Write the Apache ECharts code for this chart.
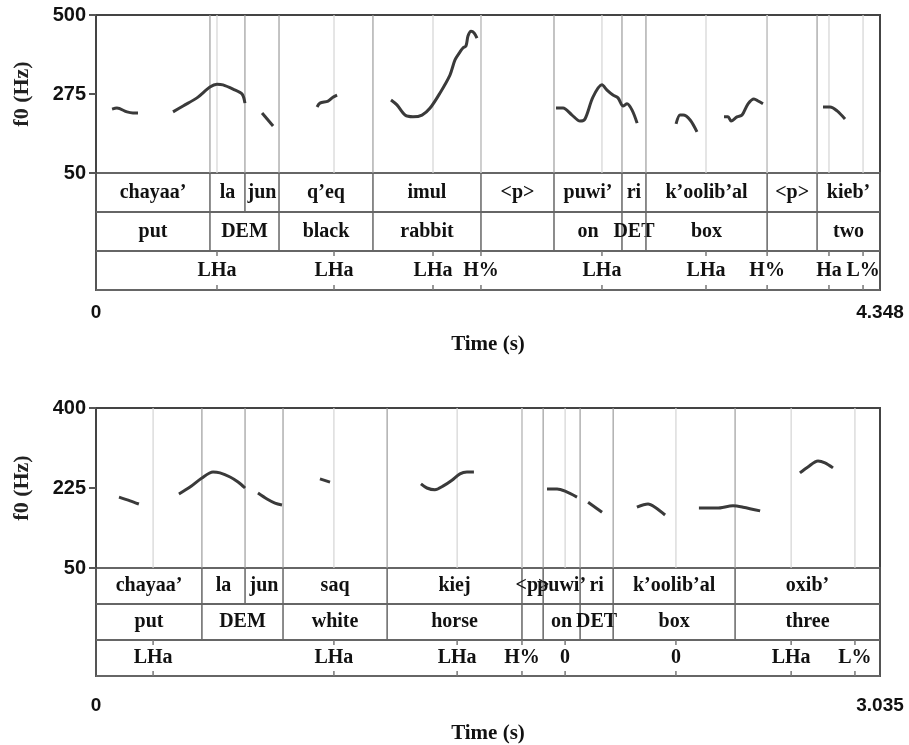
<!DOCTYPE html>
<html>
<head>
<meta charset="utf-8">
<script src="https://cdn.jsdelivr.net/npm/echarts@6/dist/echarts.min.js"></script>
<style>
  html, body { margin: 0; padding: 0; background: #fff; }
  #chart { width: 909px; height: 745px; }
</style>
</head>
<body>
<div id="chart"></div>
<script>
  // ---- panel 1 (two) ----
  const topDuration = 4.348;
  const topHzTicks = [50, 275, 500];
  const topContours = [
    [[0.089, 232], [0.116, 235], [0.172, 224], [0.205, 221], [0.233, 221]],
    [[0.427, 224], [0.483, 241], [0.560, 264], [0.632, 295], [0.671, 303], [0.704, 301], [0.760, 289], [0.810, 275], [0.826, 249]],
    [[0.921, 221], [0.982, 184]],
    [[1.226, 238], [1.242, 249], [1.287, 255], [1.314, 266], [1.337, 272]],
    [[1.636, 258], [1.669, 244], [1.714, 215], [1.758, 210], [1.808, 215], [1.853, 235], [1.908, 278], [1.963, 329], [1.991, 372],
     [2.019, 395], [2.035, 406], [2.052, 412], [2.063, 440], [2.080, 454], [2.097, 449], [2.113, 434]],
    [[2.551, 235], [2.590, 235], [2.640, 215], [2.684, 198], [2.712, 204], [2.756, 266], [2.806, 301], [2.834, 286],
     [2.867, 272], [2.895, 264], [2.923, 241], [2.945, 247], [2.973, 229], [3.001, 192]],
    [[3.217, 190], [3.239, 215], [3.256, 215], [3.295, 201], [3.333, 167]],
    [[3.483, 210], [3.505, 210], [3.522, 198], [3.555, 210], [3.583, 215], [3.616, 247], [3.649, 261], [3.672, 255], [3.699, 247]],
    [[4.032, 238], [4.071, 238], [4.110, 227], [4.154, 204]]
  ];
  // [start, end, label]
  const topWords = [
    [0, 0.632, 'chayaa’'], [0.632, 0.826, 'la'], [0.826, 1.015, 'jun'], [1.015, 1.536, 'q’eq'],
    [1.536, 2.135, 'imul'], [2.135, 2.540, '<p>'], [2.540, 2.917, 'puwi’'], [2.917, 3.050, 'ri'],
    [3.050, 3.722, 'k’oolib’al'], [3.722, 3.999, '<p>'], [3.999, 4.348, 'kieb’']
  ];
  const topGloss = [
    [0, 0.632, 'put'], [0.632, 1.015, 'DEM'], [1.015, 1.536, 'black'], [1.536, 2.135, 'rabbit'],
    [2.135, 2.540, ''], [2.540, 2.917, 'on'], [2.917, 3.050, 'DET'], [3.050, 3.722, 'box'],
    [3.722, 3.999, ''], [3.999, 4.348, 'two']
  ];
  // [time, label]
  const topTones = [
    [0.671, 'LHa'], [1.320, 'LHa'], [1.869, 'LHa'], [2.135, 'H%'], [2.806, 'LHa'],
    [3.383, 'LHa'], [3.722, 'H%'], [4.065, 'Ha'], [4.254, 'L%']
  ];

  // ---- panel 2 (three) ----
  const botDuration = 3.035;
  const botHzTicks = [50, 225, 400];
  const botContours = [
    [[0.089, 205], [0.132, 197], [0.166, 190]],
    [[0.321, 212], [0.364, 227], [0.410, 247], [0.453, 260], [0.480, 258], [0.519, 249], [0.550, 238], [0.577, 225]],
    [[0.627, 214], [0.662, 201], [0.693, 192], [0.720, 188]],
    [[0.867, 245], [0.906, 238]],
    [[1.258, 234], [1.281, 225], [1.312, 221], [1.343, 229], [1.378, 242], [1.409, 256], [1.436, 260], [1.463, 260]],
    [[1.746, 223], [1.785, 223], [1.816, 218], [1.862, 205]],
    [[1.905, 194], [1.959, 172]],
    [[2.094, 183], [2.137, 190], [2.164, 183], [2.203, 166]],
    [[2.334, 181], [2.404, 181], [2.466, 186], [2.505, 183], [2.571, 175]],
    [[2.725, 258], [2.756, 271], [2.795, 284], [2.822, 280], [2.853, 269]]
  ];
  const botWords = [
    [0, 0.410, 'chayaa’'], [0.410, 0.577, 'la'], [0.577, 0.724, 'jun'], [0.724, 1.127, 'saq'],
    [1.127, 1.649, 'kiej'], [1.649, 1.731, '<p>'], [1.731, 1.874, 'puwi’'], [1.874, 2.002, 'ri'],
    [2.002, 2.474, 'k’oolib’al'], [2.474, 3.035, 'oxib’']
  ];
  const botGloss = [
    [0, 0.410, 'put'], [0.410, 0.724, 'DEM'], [0.724, 1.127, 'white'], [1.127, 1.649, 'horse'],
    [1.649, 1.731, ''], [1.731, 1.874, 'on'], [1.874, 2.002, 'DET'], [2.002, 2.474, 'box'],
    [2.474, 3.035, 'three']
  ];
  const botTones = [
    [0.221, 'LHa'], [0.921, 'LHa'], [1.398, 'LHa'], [1.649, 'H%'], [1.816, '0'],
    [2.245, '0'], [2.691, 'LHa'], [2.938, 'L%']
  ];

  const SERIF = '"Liberation Serif", "DejaVu Serif", serif';
  const SANS = '"Liberation Sans", "DejaVu Sans", sans-serif';
  const TIER_FONT = 'bold 20px ' + SERIF;

  const chart = echarts.init(document.getElementById('chart'));

  let grids = [], xAxes = [], yAxes = [], series = [];

  function addPanel(top, pitchH, tierH, dur, hzTicks, contours, words, gloss, tones, labelMargin, nameGap) {
    const gp = grids.length;      // pitch grid
    const gt = gp + 1;            // tier grid
    const hzMin = hzTicks[0], hzMax = hzTicks[hzTicks.length - 1];

    grids.push({ left: 96, width: 784, top: top, height: pitchH, show: true, borderColor: '#444', borderWidth: 2 });
    grids.push({ left: 96, width: 784, top: top + pitchH, height: tierH, show: true, borderColor: '#555', borderWidth: 2 });

    xAxes.push({ gridIndex: gp, type: 'value', min: 0, max: dur, show: false });
    xAxes.push({
      gridIndex: gt, type: 'value', min: 0, max: dur,
      axisLine: { show: false },
      splitLine: { show: false },
      axisTick: { show: true, customValues: [0, dur], length: 4, lineStyle: { color: '#555', width: 2 } },
      axisLabel: { customValues: [0, dur], margin: labelMargin, color: '#111', fontFamily: SANS, fontWeight: 'bold', fontSize: 19 },
      name: 'Time (s)', nameLocation: 'middle', nameGap: nameGap,
      nameTextStyle: { color: '#111', fontFamily: SERIF, fontWeight: 'bold', fontSize: 21 }
    });

    yAxes.push({
      gridIndex: gp, type: 'value', min: hzMin, max: hzMax,
      axisLine: { show: true, lineStyle: { color: '#444', width: 2 } },
      axisTick: { show: true, customValues: hzTicks, length: 7, lineStyle: { color: '#555', width: 2 } },
      axisLabel: { customValues: hzTicks, margin: 10, color: '#111', fontFamily: SANS, fontWeight: 'bold', fontSize: 20 },
      splitLine: { show: false },
      name: 'f0 (Hz)', nameLocation: 'middle', nameGap: 63, nameRotate: 90,
      nameTextStyle: { color: '#222', fontFamily: SERIF, fontWeight: 'bold', fontSize: 22 }
    });
    yAxes.push({
      gridIndex: gt, type: 'value', min: 0, max: 3, interval: 1, inverse: true,
      axisLine: { show: false }, axisTick: { show: false }, axisLabel: { show: false },
      splitLine: { show: true, lineStyle: { color: '#666', width: 2 } }
    });

    // vertical lines through the pitch area: boundaries (dark) and tone points (light)
    const vlines = [];
    words.forEach(w => { if (w[0] > 0) vlines.push({ t: w[0], kind: 'b' }); });
    tones.forEach(p => vlines.push({ t: p[0], kind: 'p' }));
    series.push({
      type: 'custom', xAxisIndex: gp, yAxisIndex: gp, z: 1, silent: true,
      data: vlines.map(v => [v.t, hzMin]),
      renderItem: function (params, api) {
        const v = vlines[params.dataIndex];
        const a = api.coord([v.t, hzMin]), b = api.coord([v.t, hzMax]);
        return {
          type: 'line', shape: { x1: a[0], y1: a[1], x2: b[0], y2: b[1] },
          style: { stroke: v.kind === 'b' ? '#9c9c9c' : '#d4d4d4', lineWidth: 1.2 }
        };
      }
    });

    // pitch contours
    contours.forEach(c => {
      series.push({
        type: 'line', xAxisIndex: gp, yAxisIndex: gp, z: 3, data: c,
        showSymbol: false, smooth: 0.3, silent: true,
        lineStyle: { color: '#3a3a3a', width: 3 }
      });
    });

    // tiers
    const items = [];
    [words, gloss].forEach((tier, row) => {
      tier.forEach(iv => {
        if (iv[0] > 0) items.push({ kind: 'bound', t: iv[0], row: row });
        if (iv[2]) items.push({ kind: 'label', t: (iv[0] + iv[1]) / 2, row: row, text: iv[2] });
      });
    });
    tones.forEach(p => {
      items.push({ kind: 'point', t: p[0], row: 2 });
      items.push({ kind: 'label', t: p[0], row: 2, text: p[1] });
    });
    series.push({
      type: 'custom', xAxisIndex: gt, yAxisIndex: gt, z: 2, silent: true,
      data: items.map(it => [it.t, it.row]),
      renderItem: function (params, api) {
        const it = items[params.dataIndex];
        const a = api.coord([it.t, it.row]), b = api.coord([it.t, it.row + 1]);
        if (it.kind === 'bound') {
          return { type: 'line', shape: { x1: a[0], y1: a[1], x2: b[0], y2: b[1] }, style: { stroke: '#666', lineWidth: 1.5 } };
        }
        if (it.kind === 'point') {
          return {
            type: 'group', children: [
              { type: 'line', shape: { x1: a[0], y1: a[1], x2: a[0], y2: a[1] + 5 }, style: { stroke: '#777', lineWidth: 1.5 } },
              { type: 'line', shape: { x1: b[0], y1: b[1] - 5, x2: b[0], y2: b[1] }, style: { stroke: '#777', lineWidth: 1.5 } }
            ]
          };
        }
        const m = api.coord([it.t, it.row + 0.5]);
        return {
          type: 'text', x: m[0], y: m[1],
          style: { text: it.text, fill: '#111', font: TIER_FONT, align: 'center', verticalAlign: 'middle' }
        };
      }
    });
  }

  addPanel(15, 158, 117, topDuration, topHzTicks, topContours, topWords, topGloss, topTones, 13, 44);
  addPanel(408, 160, 115, botDuration, botHzTicks, botContours, botWords, botGloss, botTones, 20, 47);

  chart.setOption({
    animation: false,
    backgroundColor: '#fff',
    grid: grids,
    xAxis: xAxes,
    yAxis: yAxes,
    series: series
  });
</script>
</body>
</html>
